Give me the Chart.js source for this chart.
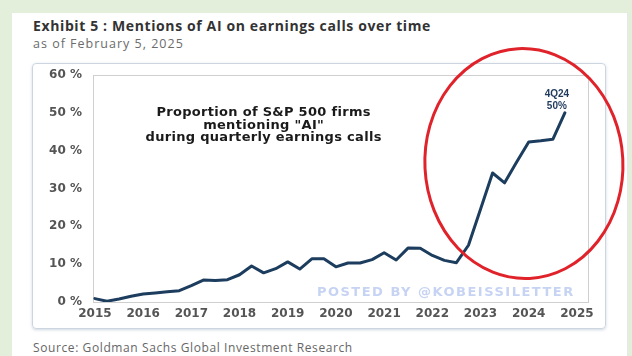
<!DOCTYPE html>
<html>
<head>
<meta charset="utf-8">
<script src="https://cdn.jsdelivr.net/npm/chart.js"></script>
<style>
  body { margin: 0; width: 632px; height: 356px; background: #e3eedb; overflow: hidden; position: relative; font-family: "Open Sans", "Noto Sans", sans-serif; }
  #panel { position: absolute; left: 12px; top: 13px; width: 615px; height: 343px; background: #fff; border-right: 1px solid #e4e8ec; }
  #title { position: absolute; left: 33px; top: 16px; font-size: 14px; font-weight: bold; color: #333; letter-spacing: 0.62px; }
  #sub { position: absolute; left: 33px; top: 35px; font-size: 12.5px; color: #6b6b6b; letter-spacing: 1px; }
  #box { position: absolute; left: 32px; top: 63px; width: 572px; height: 264px; border: 1px solid #cdd6e0; border-radius: 4px; box-shadow: 0 1px 3px rgba(120,140,170,0.35); }
  #source { position: absolute; left: 33px; top: 339px; font-size: 12px; color: #666; letter-spacing: 0.6px; }
  canvas { position: absolute; left: 0; top: 0; }
</style>
</head>
<body>
<div id="panel"></div>
<div id="title">Exhibit 5 : Mentions of AI on earnings calls over time</div>
<div id="sub">as of February 5, 2025</div>
<div id="box"></div>
<div id="source">Source: Goldman Sachs Global Investment Research</div>
<canvas id="chart" width="632" height="356"></canvas>
<script>
// Quarterly share of S&P 500 firms mentioning "AI" (1Q15 .. 4Q24)
var years = [2015, 2016, 2017, 2018, 2019, 2020, 2021, 2022, 2023, 2024, 2025];
var quarters = ["1Q", "2Q", "3Q", "4Q"];
var values = [
  0.9, 0.2, 0.8, 1.5,      // 2015
  2.1, 2.4, 2.7, 3.0,      // 2016
  4.3, 5.8, 5.7, 5.9,      // 2017
  7.2, 9.5, 7.7, 8.8,      // 2018
  10.6, 8.7, 11.4, 11.4,   // 2019
  9.3, 10.3, 10.3, 11.2,   // 2020
  13.0, 11.1, 14.3, 14.2,  // 2021
  12.3, 11.0, 10.4, 15.0,  // 2022
  24.5, 34.1, 31.5, 37.0,  // 2023
  42.3, 42.6, 43.0, 50.0   // 2024
];
var yTicks = [0, 10, 20, 30, 40, 50, 60];

var points = values.map(function (v, i) {
  return { x: years[0] + Math.floor(i / 4) + (i % 4) / 4, y: v };
});

var boldFont = '"DejaVu Sans", sans-serif';

// extra drawing: plot frame, notes, watermark, red ellipse
var extras = {
  id: 'extras',
  beforeDatasetsDraw: function (chart) {
    var ctx = chart.ctx, a = chart.chartArea;
    var xs = chart.scales.x, ys = chart.scales.y;
    ctx.save();
    ctx.strokeStyle = '#cfcfcf';
    ctx.lineWidth = 1;
    ctx.strokeRect(a.left + 0.5, a.top + 0.5, a.right - a.left, a.bottom - a.top);
    ctx.fillStyle = '#c6d3f3';
    ctx.font = 'bold 13px ' + boldFont;
    ctx.letterSpacing = '1.5px';
    ctx.textAlign = 'center';
    ctx.textBaseline = 'middle';
    ctx.fillText('POSTED BY @KOBEISSILETTER', xs.getPixelForValue(2022.28), ys.getPixelForValue(2.4));
    ctx.restore();
  },
  afterDraw: function (chart) {
    var ctx = chart.ctx;
    var xs = chart.scales.x, ys = chart.scales.y;
    ctx.save();
    ctx.textAlign = 'center';
    ctx.textBaseline = 'middle';
    ctx.fillStyle = '#1a1a1a';
    ctx.font = 'bold 13px ' + boldFont;
    ctx.letterSpacing = '0.3px';
    var cx = xs.getPixelForValue(2018.5), cy = ys.getPixelForValue(50);
    ctx.fillText('Proportion of S&P 500 firms', cx, cy);
    ctx.fillText('mentioning "AI"', cx, cy + 12.5);
    ctx.fillText('during quarterly earnings calls', cx, cy + 25);

    var last = points[points.length - 1];
    ctx.letterSpacing = '0px';
    ctx.fillStyle = '#1f3a5c';
    ctx.font = 'bold 10px "Liberation Sans", Arial, sans-serif';
    var lx = xs.getPixelForValue(last.x), ly = ys.getPixelForValue(last.y);
    ctx.fillText('4Q24', lx - 8, ly - 19);
    ctx.fillText('50%', lx - 8, ly - 7);

    ctx.strokeStyle = '#e0232b';
    ctx.lineWidth = 3;
    ctx.beginPath();
    ctx.ellipse(xs.getPixelForValue(2023.9), ys.getPixelForValue(36.6), 99, 115, -0.05, 0, Math.PI * 2);
    ctx.stroke();
    ctx.restore();
  }
};

new Chart(document.getElementById('chart'), {
  type: 'line',
  data: {
    datasets: [{
      data: points,
      borderColor: '#1c3d5e',
      borderWidth: 3,
      pointRadius: 0,
      tension: 0,
      borderJoinStyle: 'round',
      borderCapStyle: 'round'
    }]
  },
  options: {
    responsive: false,
    animation: false,
    layout: { padding: { left: 32, right: 44, top: 75, bottom: 28 } },
    plugins: { legend: { display: false }, tooltip: { enabled: false } },
    scales: {
      x: {
        type: 'linear',
        min: 2014.96,
        max: 2025.23,
        afterBuildTicks: function (s) { s.ticks = years.map(function (v) { return { value: v }; }); },
        afterFit: function (s) { s.height = 26; },
        grid: { display: false, drawTicks: false },
        border: { display: false },
        ticks: {
          color: '#555',
          padding: 5,
          maxRotation: 0,
          autoSkip: false,
          font: { family: boldFont, size: 12, weight: 'bold' },
          callback: function (v) { return String(v); }
        }
      },
      y: {
        min: 0,
        max: 60,
        afterBuildTicks: function (s) { s.ticks = yTicks.map(function (v) { return { value: v }; }); },
        afterFit: function (s) { s.width = 61; },
        grid: { display: false, drawTicks: false },
        border: { display: false },
        ticks: {
          color: '#555',
          padding: 11,
          font: { family: boldFont, size: 12, weight: 'bold' },
          callback: function (v) { return v + ' %'; }
        }
      }
    }
  },
  plugins: [extras]
});
</script>
</body>
</html>
